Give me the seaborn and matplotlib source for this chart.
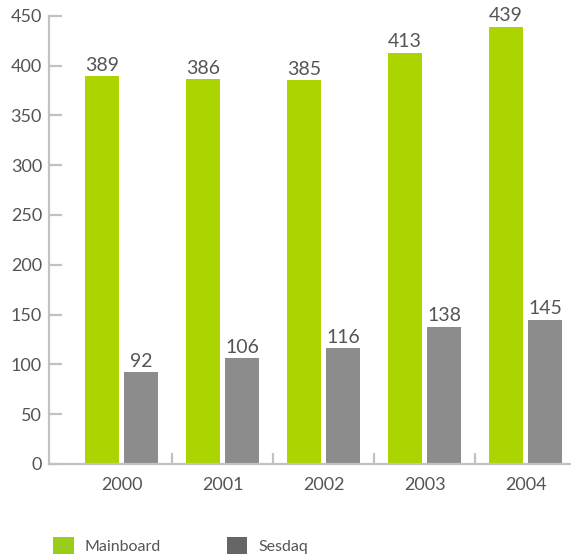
import matplotlib
matplotlib.use("Agg")
import matplotlib.pyplot as plt
from matplotlib.patches import Patch
from matplotlib.ticker import FixedLocator, NullFormatter
import seaborn as sns
import pandas as pd

years = ["2000", "2001", "2002", "2003", "2004"]
mainboard = [389, 386, 385, 413, 439]
sesdaq = [92, 106, 116, 138, 145]
series_names = ["Mainboard", "Sesdaq"]

bar_colors = {"Mainboard": "#acd400", "Sesdaq": "#8c8c8c"}
legend_colors = {"Mainboard": "#9ccc1a", "Sesdaq": "#666666"}
text_color = "#555555"
axis_color = "#c2c2c2"

df = pd.DataFrame({
    "year": years * 2,
    "value": mainboard + sesdaq,
    "market": [series_names[0]] * len(years) + [series_names[1]] * len(years),
})

sns.set_theme(style="white")
plt.rcParams["font.family"] = ["Lato", "DejaVu Sans"]

fig = plt.figure(figsize=(5.71, 5.58), dpi=100)
ax = fig.add_axes([49 / 571, 94 / 558, 1 - 49 / 571, (558 - 94 - 15.7) / 558])

sns.barplot(data=df, x="year", y="value", hue="market", palette=bar_colors,
            width=0.772, gap=0.128, ax=ax, legend=False, saturation=1,
            edgecolor="none")

for cont in ax.containers:
    ax.bar_label(cont, padding=2, fontsize=14, color=text_color, clip_on=False)

ax.set_ylim(0, 450)
ax.set_xlim(-0.72, 4.45)
ax.set_yticks(range(0, 451, 50))
ax.set_xlabel("")
ax.set_ylabel("")

for side in ["top", "right"]:
    ax.spines[side].set_visible(False)
for side in ["left", "bottom"]:
    ax.spines[side].set_color(axis_color)
    ax.spines[side].set_linewidth(1.6)

ax.tick_params(axis="y", direction="in", length=9.5, width=1.6, color=axis_color,
               labelsize=13, labelcolor=text_color, pad=5, left=True)
ax.tick_params(axis="x", which="major", length=0, labelsize=13,
               labelcolor=text_color, pad=9)
ax.xaxis.set_minor_locator(FixedLocator([i + 0.5 for i in range(len(years) - 1)]))
ax.xaxis.set_minor_formatter(NullFormatter())
ax.tick_params(axis="x", which="minor", direction="in", length=8, width=1.6,
               color=axis_color, bottom=True)

handles = [Patch(facecolor=legend_colors[n], edgecolor="none") for n in series_names]
fig.legend(handles, series_names, loc="lower left", bbox_to_anchor=(53 / 571, 4 / 558),
           ncol=2, frameon=False, fontsize=11.5, labelcolor=text_color,
           handlelength=1.3, handleheight=1.3, handletextpad=0.69,
           columnspacing=4.1, borderpad=0, borderaxespad=0)

fig.savefig("out.png", dpi=100)
